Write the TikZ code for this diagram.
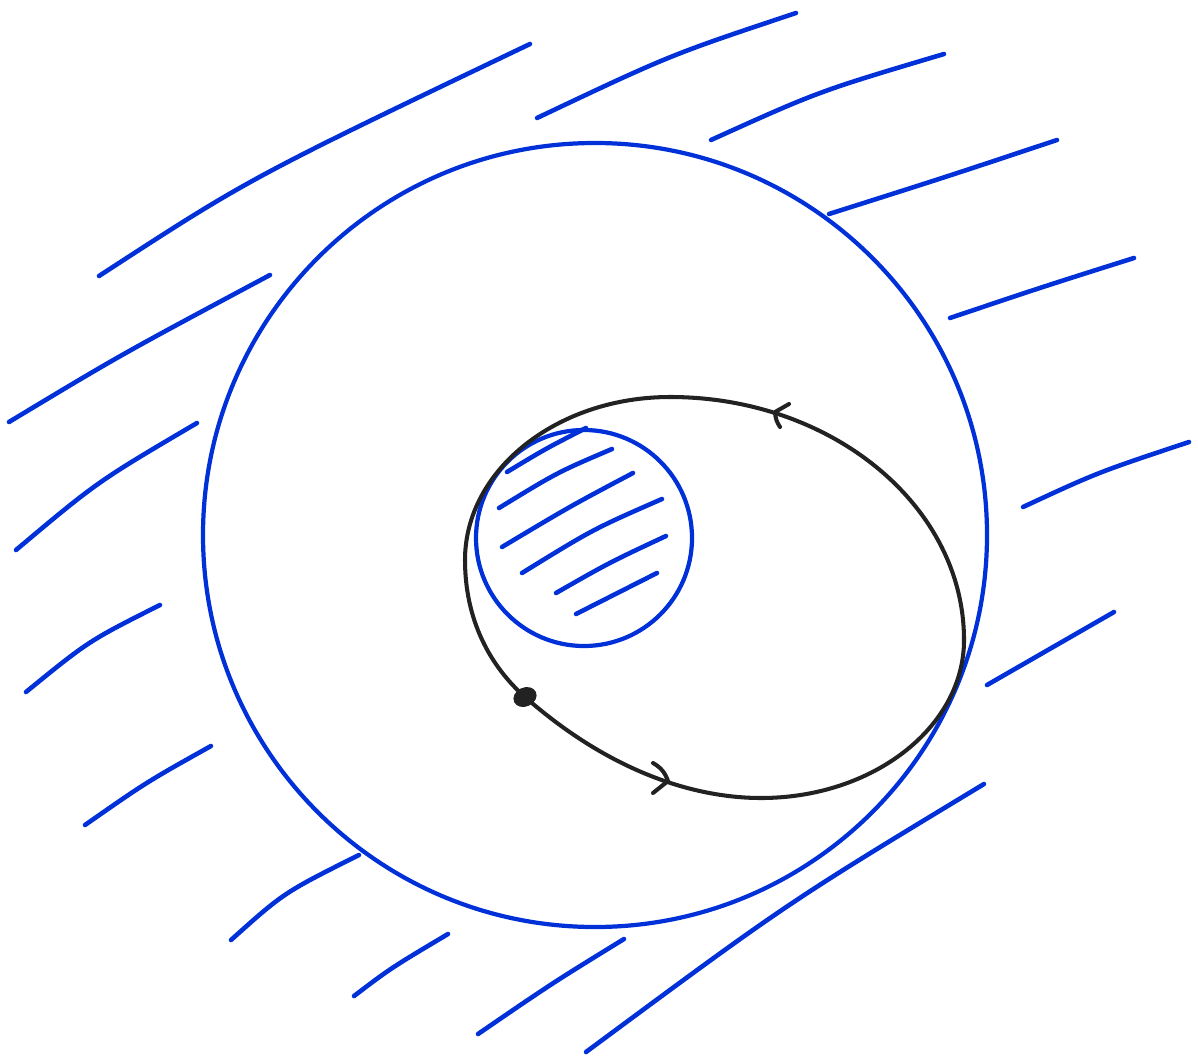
\documentclass[tikz,border=0pt]{standalone}
\usepackage{tikz}
\definecolor{penblue}{HTML}{0030D8}
\definecolor{penblack}{HTML}{222222}

\begin{document}
\begin{tikzpicture}[x=0.01cm, y=-0.01cm,
    hatch/.style={draw=penblue, line width=1.3pt, line cap=round, line join=round},
    rim/.style={draw=penblue, line width=1.2pt},
    orbit/.style={draw=penblack, line width=1.15pt, line cap=round, line join=round}
]
    \useasboundingbox (0,0) rectangle (1198,1058);

    % outer region and the hole
    \draw[rim] (595,535) circle [radius=392];
    \draw[rim] (584,538) circle [radius=108];

    % hatching outside the big circle (start / middle / end)
    \foreach \ax/\ay/\mx/\my/\bx/\by in {
        99/276/268/173/530/44, 537/118/669/58/796/13, 711/140/821/93/944/54,
        829/214/945/177/1057/140, 950/318/1043/287/1134/258, 1023/507/1100/473/1189/442,
        987/685/1050/649/1114/612, 586/1052/787/907/984/784, 478/1034/552/984/624/939,
        354/996/394/967/448/934, 231/940/287/894/359/855, 85/825/147/783/211/746,
        26/692/90/643/160/605, 16/550/100/483/197/423, 9/422/126/353/270/275}
    {
        \pgfmathsetmacro\cx{(\ax+\bx)/2+1.4*(\mx-(\ax+\bx)/2)}
        \pgfmathsetmacro\cy{(\ay+\by)/2+1.4*(\my-(\ay+\by)/2)}
        \draw[hatch] (\ax,\ay) .. controls (\cx,\cy) .. (\bx,\by);
    }

    % hatching inside the hole
    \foreach \ax/\ay/\mx/\my/\bx/\by in {
        507/472/546/449/586/428, 499/508/557/474/612/449, 502/547/570/507/633/473,
        522/573/593/531/662/499, 556/593/610/563/666/536, 576/614/616/593/657/573}
    {
        \pgfmathsetmacro\cx{(\ax+\bx)/2+1.4*(\mx-(\ax+\bx)/2)}
        \pgfmathsetmacro\cy{(\ay+\by)/2+1.4*(\my-(\ay+\by)/2)}
        \draw[hatch] (\ax,\ay) .. controls (\cx,\cy) .. (\bx,\by);
    }

    % closed path round the hole
    \coordinate (left) at (465,560);
    \coordinate (top) at (670,397);
    \coordinate (right) at (964,640);
    \coordinate (bottom) at (761,798);
    \coordinate (start) at (525,697);
    \draw[orbit] (left) .. controls (465,470) and (557,397) .. (top)
        .. controls (832,397) and (964,506) .. (right)
        .. controls (964,727) and (873,798) .. (bottom)
        .. controls (700,798) and (615,776) .. (start)
        .. controls (490,666) and (465,620) .. (left) -- cycle;

    % direction marks
    \coordinate (tipA) at (775,412);
    \coordinate (tipB) at (668,781);
    \draw[orbit] (789,404) -- (tipA) to[bend right=15] (780,427);
    \draw[orbit] (653,763) to[bend left=20] (tipB) -- (653,793);

    \fill[penblack, rotate around={25:(start)}] (start) ellipse [x radius=12, y radius=9.5];
\end{tikzpicture}
\end{document}
